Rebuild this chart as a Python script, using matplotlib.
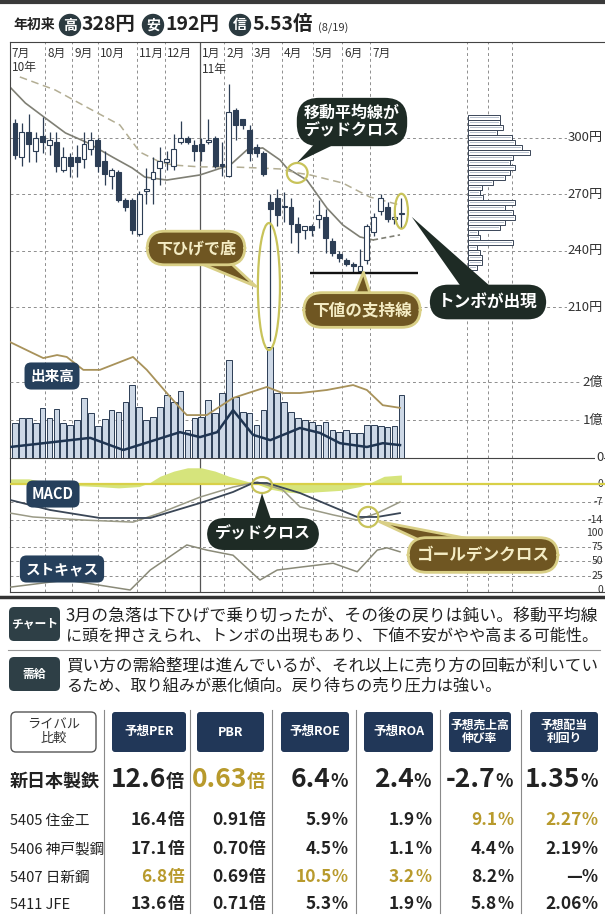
import numpy as np
import matplotlib.pyplot as plt
from matplotlib.patches import Ellipse, Circle, FancyBboxPatch
from matplotlib.transforms import blended_transform_factory

plt.rcParams['font.family'] = ['Noto Sans CJK JP', 'DejaVu Sans']

W, H = 605, 915

# 年初来の値
ytd_high = 328
ytd_low = 192
margin_ratio = 5.53
as_of = '8/19'

# 週足ローソク（2010年7月〜2011年7月）
opens = [308, 290, 303, 293, 301, 296, 298, 283, 290, 290,
         289, 294, 299, 288, 280, 282, 267, 267, 249, 272,
         278, 284, 287, 285, 298, 300, 296, 297, 298, 300,
         286, 280, 315, 310, 304, 295, 292, 266, 268, 264,
         263, 254, 251, 253, 257, 258, 245, 238, 235, 233,
         229, 235, 250, 261, 263, 257, 259.6]
highs = [310, 308, 313, 303, 311, 303, 303, 295, 292, 296,
         303, 303, 300, 293, 284, 283, 268, 268, 272, 284,
         290, 295, 293, 302, 309, 301, 299, 300, 310, 301,
         298, 329, 316, 310, 307, 297, 293, 270, 273, 271,
         268, 258, 253, 254, 267, 262, 247, 240, 236, 234,
         241, 254, 260, 270, 266, 260, 268]
lows = [289, 285, 287, 287, 292, 291, 282, 282, 279, 279,
        284, 291, 282, 275, 273, 266, 261, 249, 248, 265,
        265, 275, 283, 283, 297, 297, 288, 288, 297, 284,
        280, 279, 299, 305, 288, 290, 280, 192, 253, 255,
        244, 239, 246, 248, 252, 239, 237, 234, 232, 228,
        228, 233, 248, 259, 255, 254, 252]
closes = [291, 303, 297, 300, 298, 299, 285, 290, 285, 287,
          297, 299, 285, 281, 283, 267, 263, 251, 270, 273,
          282, 288, 289, 294, 300, 298, 293, 293, 299, 285,
          285, 314, 307, 307, 292, 292, 281, 262, 259, 263,
          254, 250, 253, 251, 259, 247, 239, 236, 233, 232,
          232, 253, 258, 268, 257, 257.5, 260]

# 出来高（億株）
volume = [0.92, 1.05, 1.05, 0.92, 1.32, 1.05, 1.29, 0.92, 0.87, 1.00,
          1.58, 1.18, 0.85, 1.03, 1.26, 1.21, 1.47, 1.92, 1.34, 1.00,
          1.08, 1.34, 1.66, 1.47, 1.76, 0.74, 1.05, 1.08, 1.53, 1.18,
          1.71, 2.58, 1.60, 1.21, 1.18, 0.87, 1.26, 2.92, 1.71, 1.47,
          1.21, 1.05, 1.00, 0.95, 0.87, 0.95, 0.74, 0.68, 0.74, 0.66,
          0.66, 0.87, 0.87, 0.84, 0.82, 0.85, 1.66]

# 移動平均線（週位置, 円）
ma13_x = [-0.7, 1.5, 4.4, 7.3, 10.6, 14.1, 17.0, 18.8, 22.0, 26.8,
          31.2, 33.6, 35.9, 38.4, 39.4, 42.3, 45.2, 47.5, 50.0, 51.9, 55.8]
ma13 = [327, 318.6, 310.6, 302.7, 297.3, 289.9, 284.0, 279.2, 277.6, 280.3,
        285.6, 293.6, 294.7, 288.3, 284.0, 277.6, 262.7, 253.7, 247.3, 245.7, 248.4]
ma26_x = [0.7, 5.8, 10.6, 15.2, 18.1, 21.0, 22.9, 26.8, 31.2, 35.5,
          38.4, 40.9, 42.8, 47.5, 51.4, 55.8]
ma26 = [332.5, 325.6, 316.0, 306.9, 292.5, 287.2, 285.6, 284.6, 284.6, 284.0,
        283.5, 281.4, 280.3, 276.0, 268.6, 264.3]

# 信用残（億株）
buy_x = [-0.7, 2.6, 4.1, 6.1, 7.5, 9.9, 12.3, 17.1, 19.1, 22.0, 24.2,
         24.9, 27.8, 31.6, 36.5, 38.8, 41.3, 45.2, 49.0, 51.0, 53.3, 55.8]
buy_bal = [3.05, 2.76, 2.63, 2.71, 2.66, 2.32, 2.32, 2.66, 2.32, 1.71, 1.26,
           1.13, 1.13, 1.58, 1.87, 1.71, 1.71, 1.79, 1.92, 1.79, 1.39, 1.32]
sell_x = [-0.7, 10.9, 15.7, 23.9, 26.8, 29.3, 31.6, 34.5, 37.0, 41.3,
          44.2, 47.1, 51.0, 53.3, 55.8]
sell_bal = [0.29, 0.53, 0.21, 0.68, 0.55, 0.68, 1.26, 0.61, 0.47, 0.79,
            0.66, 0.39, 0.29, 0.39, 0.34]

# 価格帯別出来高（上の価格帯から）
vp_len = [32, 32, 35, 29, 44, 47, 54, 62, 45, 42, 47, 42, 37, 25, 14, 12,
          15, 47, 37, 45, 47, 37, 32, 10, 12, 45, 9, 12, 14, 14, 9]
vp_top, vp_bottom = 310.9, 231.0

# MACD
macd_x = [-0.7, 2.6, 9.9, 17.1, 21.0, 26.8, 31.6, 35.1, 38.8, 41.3,
          46.1, 49.6, 52.5, 55.8]
macd = [-11.3, -12.8, -14.0, -14.8, -11.3, -5.1, -1.2, 0.8, -2.3, -8.9,
        -12.0, -14.0, -11.3, -7.0]
sig_x = [-0.7, 5.1, 12.3, 19.6, 26.8, 31.6, 34.5, 36.5, 41.3, 46.1,
         49.6, 52.5, 55.8]
signal = [-6.2, -10.1, -13.2, -13.2, -7.4, -3.1, 0.4, 0.4, -3.5, -8.9,
          -12.8, -12.8, -11.3]
hist_x = [-0.7, 2, 4, 6, 8, 12, 15, 18, 19.5, 21, 23, 25, 27, 29, 31, 33,
          35, 37, 39, 41, 44, 47, 50, 51.5, 53.5, 56]
hist = [2, 2, 1, 0, -0.5, -1, -1.5, -1, 0.5, 3, 5, 6.3, 6.3, 5, 3, 1.5,
        0, -2, -3, -3.5, -3, -2.5, -1, 0.5, 3, 3.5]

# ストキャスティクス
sto_x = [-0.7, 7.5, 16.7, 19.6, 24.9, 27.8, 31.6, 35.5, 38.0, 41.3,
         46.1, 49.6, 52.5, 53.9, 55.8]
sto = [5, 17.5, 0, 35, 79, 70, 61, 17.5, 35, 40, 47, 32, 70, 74, 67]

# 月の区切り（週位置）
month_edges = [4.35, 8.26, 12.03, 17.68, 21.74, 26.81, 30.29, 34.35,
               38.7, 43.19, 47.39, 51.45, 65.51, 68.55, 72.03]
month_names = ['7月', '8月', '9月', '10月', '11月', '12月', '1月', '2月',
               '3月', '4月', '5月', '6月', '7月']

price_ticks = [300, 270, 240, 210]
vol_ticks = [2, 1, 0]
macd_ticks = [0, -7, -14]
sto_ticks = [100, 75, 50, 25, 0]

# ライバル比較
rivals = ['新日本製鉄', '5405 住金工', '5406 神戸製鋼', '5407 日新鋼', '5411 JFE']
col_heads = ['予想PER', 'PBR', '予想ROE', '予想ROA', '予想売上高\n伸び率', '予想配当\n利回り']
per = [12.6, 16.4, 17.1, 6.8, 13.6]
pbr = [0.63, 0.91, 0.70, 0.69, 0.71]
roe = [6.4, 5.9, 4.5, 10.5, 5.3]
roa = [2.4, 1.9, 1.1, 3.2, 1.9]
sales_growth = [-2.7, 9.1, 4.4, 8.2, 5.8]
div_yield = [1.35, 2.27, 2.19, None, 2.06]
best = {(0, 1), (1, 4), (1, 5), (3, 0), (3, 2), (3, 3)}

chart_text = ['3月の急落は下ひげで乗り切ったが、その後の戻りは鈍い。移動平均線',
              'に頭を押さえられ、トンボの出現もあり、下値不安がやや高まる可能性。']
supply_text = ['買い方の需給整理は進んでいるが、それ以上に売り方の回転が利いてい',
               'るため、取り組みが悪化傾向。戻り待ちの売り圧力は強い。']

# ---------------- 描画 ----------------
fig = plt.figure(figsize=(W / 100, H / 100), dpi=100)


def px_axes(x0, y0, x1, y1):
    a = fig.add_axes([x0 / W, 1 - y1 / H, (x1 - x0) / W, (y1 - y0) / H])
    a.set_xticks([])
    a.set_yticks([])
    for s in a.spines.values():
        s.set_visible(False)
        s.set_color('#444')
    a.set_xlim((10 - 15) / 6.9, (605 - 15) / 6.9)
    return a


ink = '#2d3e55'
grid_kw = dict(color='#8e8e8e', lw=0.7, ls=(0, (3, 3)), zorder=1)
weeks = np.arange(len(opens))

# 株価
ax = px_axes(10, 42, 605, 458)
ax.set_ylim(129.6, 351.1)
ax.spines['left'].set_visible(True)
ax.spines['top'].set_visible(True)

ax_m = px_axes(10, 458, 605, 527)
ax_m.set_ylim(-16.7, 10.1)
ax_m.spines['top'].set_visible(True)
ax_m.spines['left'].set_visible(True)

ax_s = px_axes(10, 527, 605, 592)
ax_s.set_ylim(-3.5, 110.5)
ax_s.spines['left'].set_visible(True)
ax_s.spines['bottom'].set_visible(True)

for a in (ax, ax_m, ax_s):
    for k, e in enumerate(month_edges):
        if k == 5:
            a.axvline(e, color='#555', lw=0.9, zorder=1)
        else:
            a.axvline(e, **grid_kw)

right_tr = blended_transform_factory(ax.transAxes, ax.transData)
for p in price_ticks:
    ax.axhline(p, **grid_kw)
    ax.text(0.997, p, f'{p}円', transform=right_tr, ha='right', va='center',
            fontsize=9.5, color='#333', bbox=dict(fc='white', ec='none', pad=0.5))

o, c = np.array(opens), np.array(closes)
up = c >= o
ax.vlines(weeks, lows, highs, color=ink, lw=0.9, zorder=3)
ax.bar(weeks, np.maximum(np.abs(c - o), 0.7), bottom=np.minimum(o, c), width=0.72,
       color=np.where(up, 'white', ink), edgecolor=ink, lw=0.8, zorder=4)

ax.plot(ma13_x[:-1], ma13[:-1], color='#7f7f74', lw=1.2, zorder=2)
ax.plot(ma13_x[-2:], ma13[-2:], color='#7f7f74', lw=1.2, ls=(0, (3, 2)), zorder=2)
ax.plot(ma26_x, ma26, color='#b3ae94', lw=1.1, ls=(0, (5, 3)), zorder=2)
ax.hlines(min(lows[40:]), 42.8, 58.4, color='#111', lw=1.7, zorder=5)

# 価格帯別出来高
axp = ax.twiny()
axp.set_xlim(-458, 137)
axp.axis('off')
vp_prices = np.linspace(vp_top, vp_bottom, len(vp_len))
axp.barh(vp_prices, vp_len, height=2.3, color='white', edgecolor='#3a4658', lw=0.7)
axp.barh(vp_prices, np.array(vp_len) - 3, left=1.5, height=0.8, color='#b9c2cf', lw=0)

# 出来高・信用残
axv = ax.twinx()
axv.set_ylim(0, 10.95)
axv.axis('off')
vr_tr = blended_transform_factory(axv.transAxes, axv.transData)
for v in vol_ticks:
    if v:
        axv.axhline(v, **grid_kw)
    axv.text(0.997, v, f'{v}億' if v else '0', transform=vr_tr, ha='right', va='center',
             fontsize=9.5, color='#333', bbox=dict(fc='white', ec='none', pad=0.5))
axv.bar(weeks, volume, width=0.82, color='#cdd8e6', edgecolor='#2c3d55', lw=0.7, zorder=3)
axv.plot(buy_x, buy_bal, color='#a8925a', lw=1.3, zorder=4)
axv.plot(sell_x, sell_bal, color='#1f3552', lw=1.8, zorder=4)

# MACD
m_tr = blended_transform_factory(ax_m.transAxes, ax_m.transData)
for v in macd_ticks:
    if v:
        ax_m.axhline(v, **grid_kw)
    ax_m.text(0.997, v, str(v), transform=m_tr, ha='right', va='center',
              fontsize=7.5, color='#333')
ax_m.fill_between(hist_x, 0, hist, color='#d6e47c', lw=0, zorder=2)
ax_m.axhline(0, color='#d8d048', lw=1.6, zorder=3)
ax_m.plot(macd_x, macd, color='#9a9a86', lw=1.1, zorder=4)
ax_m.plot(sig_x, signal, color='#3a4656', lw=1.3, zorder=4)

# ストキャス
s_tr = blended_transform_factory(ax_s.transAxes, ax_s.transData)
for v in sto_ticks:
    if 0 < v < 100:
        ax_s.axhline(v, **grid_kw)
    ax_s.text(0.997, v, str(v), transform=s_tr, ha='right', va='center',
              fontsize=7.5, color='#333')
ax_s.plot(sto_x, sto, color='#8a8a78', lw=1.1, zorder=3)

# ---------------- 紙面（ピクセル座標） ----------------
pg = fig.add_axes([0, 0, 1, 1], zorder=10)
pg.set_xlim(0, W)
pg.set_ylim(H, 0)
pg.axis('off')
renderer = fig.canvas.get_renderer()
inv = pg.transData.inverted()

pg.plot([0, W], [1.5, 1.5], color='#3a3a3a', lw=3)
pg.plot([0, W], [597, 597], color='#333', lw=2.5)

# ヘッダー
pg.text(13, 25, '年初来', fontsize=10, fontweight='bold', va='center', color='#222')
for cx, ch, val, x_val in [(70, '高', f'{ytd_high}円', 82), (153, '安', f'{ytd_low}円', 165),
                           (240, '信', f'{margin_ratio:.2f}倍', 252)]:
    pg.add_patch(Circle((cx, 25), 10.5, color='#2b3a40'))
    pg.text(cx, 25.5, ch, color='white', fontsize=10, fontweight='bold', ha='center', va='center')
    pg.text(x_val, 25, val, fontsize=14, fontweight='bold', va='center', color='#222')
pg.text(318, 28, f'({as_of})', fontsize=8, va='center', color='#333')

# 月ラベル
mtr = blended_transform_factory(ax.transData, pg.transData)
label_pos = [-0.45] + [e + 0.3 for e in month_edges[:12]]
for name, xpos in zip(month_names, label_pos):
    pg.text(xpos, 53, name, transform=mtr, fontsize=8.5, va='center', color='#333')
pg.text(label_pos[0], 67, '10年', transform=mtr, fontsize=8.5, va='center', color='#333')
pg.text(label_pos[6], 69, '11年', transform=mtr, fontsize=8.5, va='center', color='#333')

# 注目ポイントの楕円
hl = dict(fill=False, ec='#c8c35a', lw=1.6, zorder=6)
pg.add_patch(Ellipse((40.9, 281.4), 3.0, 10.6, transform=ax.transData, **hl))
pg.add_patch(Ellipse((36.8, 220.9), 3.2, 67.6, transform=ax.transData, **hl))
pg.add_patch(Ellipse((56.0, 261.0), 1.9, 18.6, transform=ax.transData, **hl))
pg.add_patch(Ellipse((35.8, -0.4), 2.9, 6.2, transform=ax_m.transData, **hl))
pg.add_patch(Ellipse((51.2, -12.8), 2.9, 7.8, transform=ax_m.transData, **hl))

dark_bub = '#1e2b25'
brown_bub = '#6f5622'


def bubble(text, tip, tip_tr, center, fc, tc, ec=None, fs=11.5, pad=0.45, rs=1.0, tw=1.8):
    lw = 2.0 if ec else 0
    pg.annotate(text, xy=tip, xycoords=tip_tr, xytext=center, textcoords='data',
                ha='center', va='center', fontsize=fs, fontweight='bold', color=tc,
                linespacing=1.15, zorder=12,
                bbox=dict(boxstyle=f'round,pad={pad},rounding_size={rs}', fc=fc,
                          ec=ec or fc, lw=lw),
                arrowprops=dict(arrowstyle=f'wedge,tail_width={tw},shrink_factor=0.5',
                                fc=fc, ec=ec or fc, lw=lw, patchA=None,
                                shrinkA=0, shrinkB=0))


bubble('移動平均線が\nデッドクロス', (40.9, 287), ax.transData, (352, 122), dark_bub, 'white',
       fs=11.5, pad=0.45, rs=1.4, tw=1.6)
bubble('下ひげで底', (34.9, 221), ax.transData, (196, 248), brown_bub, '#f4ecc4',
       ec='#d9cf86', fs=11.5, pad=0.55, rs=1.1, tw=1.6)
bubble('トンボが出現', (57.5, 258), ax.transData, (488, 302), dark_bub, 'white',
       fs=12, pad=0.5, rs=1.1, tw=1.6)
bubble('下値の支持線', (50.5, 228.5), ax.transData, (362, 310), brown_bub, '#f4ecc4',
       ec='#d9cf86', fs=12, pad=0.5, rs=1.1, tw=1.6)
bubble('デッドクロス', (35.8, -3.6), ax_m.transData, (263, 534), dark_bub, 'white',
       fs=11.5, pad=0.5, rs=1.1, tw=1.6)
bubble('ゴールデンクロス', (52.8, -14.6), ax_m.transData, (483, 555), brown_bub, '#f4ecc4',
       ec='#d9cf86', fs=12, pad=0.5, rs=1.1, tw=1.6)

# パネル名
for cx, cy, name in [(52, 376, '出来高'), (53, 494, 'MACD'), (62, 569, 'ストキャス')]:
    pg.text(cx, cy, name, ha='center', va='center', fontsize=10.5, fontweight='bold',
            color='white', zorder=12,
            bbox=dict(boxstyle='round,pad=0.38,rounding_size=0.45', fc='#26405c', ec='none'))

# コメント欄（行幅を揃える）
for y0, tag, lines in [(607, 'チャート', chart_text), (657, '需給', supply_text)]:
    pg.add_patch(FancyBboxPatch((9, y0), 51, 34, boxstyle='round,pad=0,rounding_size=5',
                                fc='#2e3f46', ec='none'))
    pg.text(34.5, y0 + 17, tag, ha='center', va='center', fontsize=8.5,
            fontweight='bold', color='white')
    for k, line in enumerate(lines):
        t = pg.text(66, y0 + 9 + 20 * k, line, va='center', fontsize=11.6, color='#222')
        if k == 0:
            bb = t.get_window_extent(renderer=renderer)
            w = inv.transform((bb.x1, 0))[0] - inv.transform((bb.x0, 0))[0]
            t.set_fontsize(min(12.2, 11.6 * 532 / w))
        else:
            bb = t.get_window_extent(renderer=renderer)
            w = inv.transform((bb.x1, 0))[0] - inv.transform((bb.x0, 0))[0]
            if len(line) > 30:
                t.set_fontsize(min(12.2, 11.6 * 532 / w))
pg.plot([8, 600], [650, 650], color='#999', lw=0.8)

# ライバル比較表
pg.add_patch(FancyBboxPatch((11, 712), 85, 40, boxstyle='round,pad=0,rounding_size=5',
                            fc='white', ec='#555', lw=1))
pg.text(53.5, 732, 'ライバル\n比較', ha='center', va='center', fontsize=9.5,
        color='#333', linespacing=1.0)
head_x = [(112, 186), (197, 264), (281, 349), (364, 433), (449, 511), (530, 598)]
for (x0, x1), head in zip(head_x, col_heads):
    pg.add_patch(FancyBboxPatch((x0, 712), x1 - x0, 40, boxstyle='round,pad=0,rounding_size=3',
                                fc='#213758', ec='none'))
    pg.text((x0 + x1) / 2, 732, head, ha='center', va='center', fontsize=8.5 if '\n' in head else 9,
            fontweight='bold', color='white', linespacing=1.0)
for xs in [104, 190, 272, 356, 440, 521]:
    pg.plot([xs, xs], [710, 913], color='#8a8a8a', lw=0.8)

row_y = [787, 825, 854, 882, 909]
right_x = [184, 265, 348, 431, 513, 598]
cols = [(per, '{:.1f}', '倍'), (pbr, '{:.2f}', '倍'), (roe, '{:.1f}', '%'),
        (roa, '{:.1f}', '%'), (sales_growth, '{:.1f}', '%'), (div_yield, '{:.2f}', '%')]
for r, name in enumerate(rivals):
    big = r == 0
    pg.text(10, row_y[r], name, va='baseline', fontsize=13 if big else 10.5,
            fontweight='bold' if big else 'normal', color='#222')
    for ci, (vals, fmt, unit) in enumerate(cols):
        colr = '#b89a2c' if (r, ci) in best else '#222'
        v = vals[r]
        num = '—' if v is None else fmt.format(v)
        tu = pg.text(right_x[ci], row_y[r], unit, ha='right', va='baseline',
                     fontsize=13 if big else 12, fontweight='bold', color=colr)
        bb = tu.get_window_extent(renderer=renderer)
        xl = inv.transform((bb.x0, 0))[0]
        pg.text(xl, row_y[r], num, ha='right', va='baseline',
                fontsize=19 if big else 12.5, fontweight='bold', color=colr)

fig.savefig('out.png', dpi=100)
